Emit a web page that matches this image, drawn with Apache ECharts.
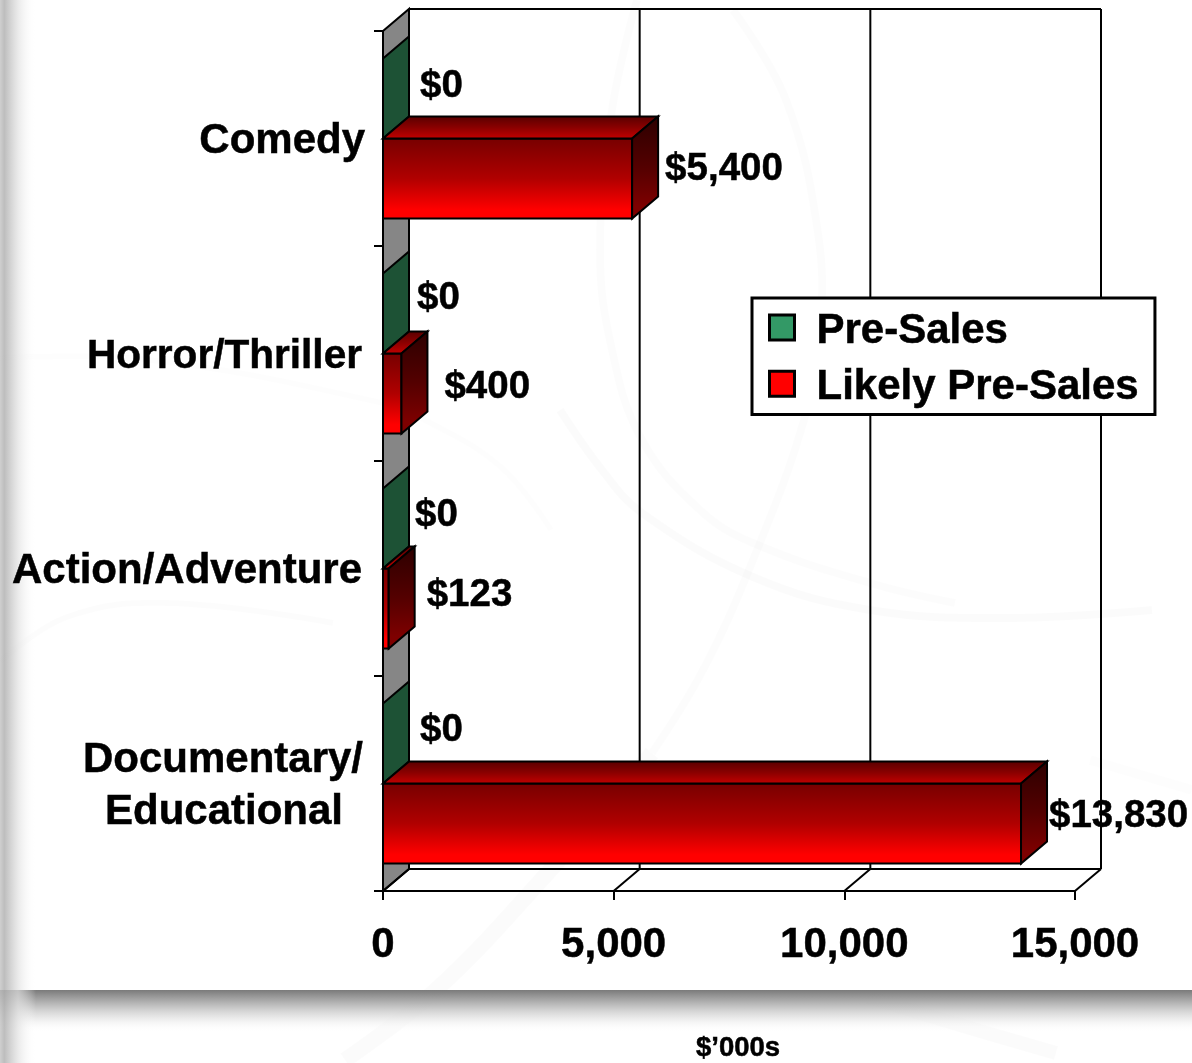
<!DOCTYPE html>
<html>
<head>
<meta charset="utf-8">
<style>html,body{margin:0;padding:0;background:#fff}#c{width:1192px;height:1063px}</style>
<script src="https://cdn.jsdelivr.net/npm/echarts@6/dist/echarts.min.js"></script>
</head>
<body>
<div id="c"></div>
<script>
var categories = ['Comedy', 'Horror/Thriller', 'Action/Adventure', 'Documentary/\nEducational'];
var preSales = [0, 0, 0, 0];
var likelyPreSales = [5400, 400, 123, 13830];
var xTicks = [0, 5000, 10000, 15000];
var axisMax = 15000;
var axisTitle = '$\u2019000s';

var FONT = '"Liberation Sans", Arial, sans-serif';
var DEPTH_X = 26, DEPTH_Y = 22, BAR_RATIO = 0.372;
var preLabelShift = [[11, -1.5], [8, -4.5], [6, -2], [11, -2]];
var likelyLabelShift = [[7, 2], [17, 4.5], [12, -2], [2, 4]];
var HEAVY = {textBorderColor: '#000', textBorderWidth: 0.5};

var chart = echarts.init(document.getElementById('c'), null, {renderer: 'canvas'});
var LG = echarts.graphic.LinearGradient;

function grad(a, b, c, midAt) {
  return new LG(0, 0, 0, 1, [{offset: 0, color: a}, {offset: midAt || 0.5, color: b}, {offset: 0.88, color: c}, {offset: 1, color: c}]);
}
var edge = {stroke: '#000', lineWidth: 2, lineJoin: 'miter'};
function poly(points, fill) {
  return {type: 'polygon', shape: {points: points}, style: Object.assign({fill: fill}, edge)};
}
function line(x1, y1, x2, y2) {
  return {type: 'line', shape: {x1: x1, y1: y1, x2: x2, y2: y2}, style: {stroke: '#000', lineWidth: 2}};
}
function barShape(api, side, faces, shifts) {
  var value = api.value(0), idx = api.value(1);
  var base = api.coord([0, idx]), end = api.coord([value, idx]);
  var h = api.size([0, 1])[1] * BAR_RATIO;
  var y0 = side < 0 ? base[1] - h : base[1];
  var y1 = y0 + h, x0 = base[0], x1 = end[0];
  var kids = [];
  if (x1 - x0 > 0.01) {
    kids.push(poly([[x0, y0], [x1, y0], [x1, y1], [x0, y1]], faces.front));
    kids.push(poly([[x0, y0], [x0 + DEPTH_X, y0 - DEPTH_Y], [x1 + DEPTH_X, y0 - DEPTH_Y], [x1, y0]], faces.top));
  }
  kids.push(poly([[x1, y0], [x1 + DEPTH_X, y0 - DEPTH_Y], [x1 + DEPTH_X, y1 - DEPTH_Y], [x1, y1]], faces.side));
  kids.push({
    type: 'text',
    style: {
      x: x1 + DEPTH_X + shifts[idx][0],
      y: (y0 + y1) / 2 - DEPTH_Y / 2 + shifts[idx][1],
      text: '$' + value.toLocaleString('en-US'),
      fill: '#000', font: 'bold 38.5px ' + FONT,
      stroke: '#000', lineWidth: 0.5,
      align: 'left', verticalAlign: 'middle'
    }
  });
  return {type: 'group', children: kids};
}
var greenFaces = {front: '#339966', top: '#2a7d54', side: '#1d5235'};
var redFaces = {
  front: grad('#760000', '#b00000', '#ff0000'),
  top: grad('#560000', '#8a0000', '#b80000'),
  side: grad('#2c0000', '#540000', '#7e0000')
};

function renderFrame(params, api) {
  var v = api.value(0);
  var bot = api.coord([v, 3]), top = api.coord([v, 0]);
  var band = api.size([0, 1])[1];
  var yFloor = bot[1] + band / 2, yTop = top[1] - band / 2, x = bot[0];
  var kids = [
    line(x, yFloor, x + DEPTH_X, yFloor - DEPTH_Y),
    line(x + DEPTH_X, yFloor - DEPTH_Y, x + DEPTH_X, yTop - DEPTH_Y)
  ];
  if (v === 0) {
    var xEnd = api.coord([axisMax, 0])[0];
    kids.unshift(poly([[x, yTop], [x + DEPTH_X, yTop - DEPTH_Y], [x + DEPTH_X, yFloor - DEPTH_Y], [x, yFloor]], '#868686'));
    kids.push(line(x + DEPTH_X, yTop - DEPTH_Y, xEnd + DEPTH_X, yTop - DEPTH_Y));
    kids.push(line(x + DEPTH_X, yFloor - DEPTH_Y, xEnd + DEPTH_X, yFloor - DEPTH_Y));
  }
  return {type: 'group', children: kids};
}

function swirl(points, width, alpha) {
  return {
    type: 'polyline', z: -10, silent: true,
    shape: {points: points, smooth: 0.4},
    style: {stroke: 'rgba(0,0,0,' + alpha + ')', lineWidth: width, fill: null, lineCap: 'butt', shadowBlur: 10, shadowColor: 'rgba(0,0,0,' + alpha + ')'}
  };
}
var backdrop = [
  swirl([[0, 358], [150, 360], [383, 403], [425, 420], [501, 467], [551, 530]], 6, 0.008),
  swirl([[0, 662], [67, 617], [167, 603], [333, 623]], 6, 0.012),
  swirl([[560, 410], [602, 470], [642, 513], [753, 577], [870, 610], [1006, 618], [1152, 610]], 8, 0.014),
  swirl([[637, 0], [612, 110], [600, 250], [612, 350], [642, 440], [700, 510], [753, 543], [870, 583], [955, 603]], 8, 0.01),
  swirl([[733, 10], [786, 100], [818, 233], [820, 330], [804, 420], [753, 560], [703, 670], [652, 753]], 8, 0.01),
  swirl([[652, 753], [544, 877], [436, 990], [345, 1060]], 16, 0.014),
  swirl([[868, 997], [960, 1025], [1056, 1053]], 14, 0.016),
  swirl([[1090, 760], [1192, 790]], 10, 0.008),
  {
    type: 'rect', z: -5, silent: true,
    shape: {x: 0, y: 990, width: 1192, height: 42},
    style: {fill: new LG(0, 0, 0, 1, [
      {offset: 0, color: 'rgba(122,122,122,1)'},
      {offset: 0.25, color: 'rgba(165,165,165,0.95)'},
      {offset: 0.5, color: 'rgba(205,205,205,0.85)'},
      {offset: 0.75, color: 'rgba(238,238,238,0.7)'},
      {offset: 1, color: 'rgba(255,255,255,0)'}
    ])}
  },
  {
    type: 'rect', z: -4, silent: true,
    shape: {x: 0, y: 0, width: 36, height: 1063},
    style: {fill: new LG(0, 0, 1, 0, [
      {offset: 0, color: 'rgba(195,195,195,0.8)'},
      {offset: 0.12, color: 'rgba(178,178,178,0.85)'},
      {offset: 0.5, color: 'rgba(225,225,225,0.7)'},
      {offset: 1, color: 'rgba(255,255,255,0)'}
    ])}
  }
];

function axisRich(size, pad) {
  return Object.assign({fontFamily: FONT, fontWeight: 'bold', fontSize: size, color: '#000', padding: pad}, HEAVY);
}

chart.setOption({
  animation: false,
  backgroundColor: '#fff',
  textStyle: {fontFamily: FONT},
  graphic: {elements: backdrop},
  grid: {left: 383, top: 31, width: 692, height: 860, containLabel: false, outerBoundsMode: 'none'},
  legend: {
    data: ['Pre-Sales', 'Likely Pre-Sales'],
    orient: 'vertical', left: 752, top: 298,
    backgroundColor: '#fff', borderColor: '#000', borderWidth: 3,
    padding: [4.5, 16, 5.5, 16], itemWidth: 25, itemHeight: 25, itemGap: 6,
    icon: 'rect', align: 'left', selectedMode: false,
    itemStyle: {borderColor: '#000', borderWidth: 3},
    formatter: function (name) { return '{t|' + name + '}'; },
    textStyle: {
      fontFamily: FONT, fontWeight: 'bold', fontSize: 42, color: '#000',
      rich: {t: Object.assign({fontFamily: FONT, fontWeight: 'bold', fontSize: 42, color: '#000', lineHeight: 42, padding: [8, 0, 0, 17]}, HEAVY)}
    }
  },
  xAxis: {
    type: 'value', min: 0, max: axisMax, interval: 5000, position: 'bottom',
    name: axisTitle, nameLocation: 'middle', nameGap: 143,
    nameTextStyle: Object.assign({fontFamily: FONT, fontWeight: 'bold', fontSize: 27.5, color: '#000', padding: [0, 0, 0, 18]}, HEAVY),
    axisLine: {show: true, onZero: false, lineStyle: {color: '#000', width: 2}},
    axisTick: {show: true, inside: false, length: 9, lineStyle: {color: '#000', width: 2}},
    splitLine: {show: false},
    axisLabel: Object.assign({
      margin: 33, color: '#000', fontFamily: FONT, fontWeight: 'bold', fontSize: 42,
      hideOverlap: false, showMinLabel: true, showMaxLabel: true,
      formatter: function (v) { return v.toLocaleString('en-US'); }
    }, HEAVY)
  },
  yAxis: {
    type: 'category', data: categories, inverse: true, position: 'left',
    axisLine: {show: true, onZero: false, lineStyle: {color: '#000', width: 2}},
    axisTick: {show: true, alignWithLabel: false, length: 9, lineStyle: {color: '#000', width: 2}},
    splitLine: {show: false},
    axisLabel: {
      margin: 18, interval: 0, color: '#000', fontFamily: FONT, fontWeight: 'bold', fontSize: 42,
      padding: [6, 0, 0, 0],
      formatter: function (v, i) {
        if (v.indexOf('\n') >= 0) {
          var p = v.split('\n');
          return '{a|' + p[0] + '}\n{b|' + p[1] + '}';
        }
        return '{' + ['c', 'e', 'd'][i] + '|' + v + '}';
      },
      rich: {
        a: Object.assign(axisRich(42, [0, 2, 0, 0]), {lineHeight: 52}),
        b: Object.assign(axisRich(42, [0, 22, 0, 0]), {lineHeight: 52}),
        c: axisRich(42, [0, 0, 0, 0]),
        d: axisRich(42, [0, 3, 0, 0]),
        e: axisRich(40.6, [0, 3, 0, 0])
      }
    }
  },
  series: [
    {
      type: 'custom', name: 'frame', z: 1, clip: false, silent: true,
      coordinateSystem: 'cartesian2d', encode: {x: 0},
      data: xTicks.map(function (t) { return [t]; }),
      renderItem: renderFrame
    },
    {
      type: 'custom', name: 'Pre-Sales', z: 3, clip: false,
      coordinateSystem: 'cartesian2d', encode: {x: 0, y: 1},
      itemStyle: {color: '#339966'},
      data: preSales.map(function (v, i) { return [v, i]; }),
      renderItem: function (p, api) { return barShape(api, -1, greenFaces, preLabelShift); }
    },
    {
      type: 'custom', name: 'Likely Pre-Sales', z: 4, clip: false,
      coordinateSystem: 'cartesian2d', encode: {x: 0, y: 1},
      itemStyle: {color: '#ff0000'},
      data: likelyPreSales.map(function (v, i) { return [v, i]; }),
      renderItem: function (p, api) { return barShape(api, 1, redFaces, likelyLabelShift); }
    }
  ]
});
</script>
</body>
</html>
